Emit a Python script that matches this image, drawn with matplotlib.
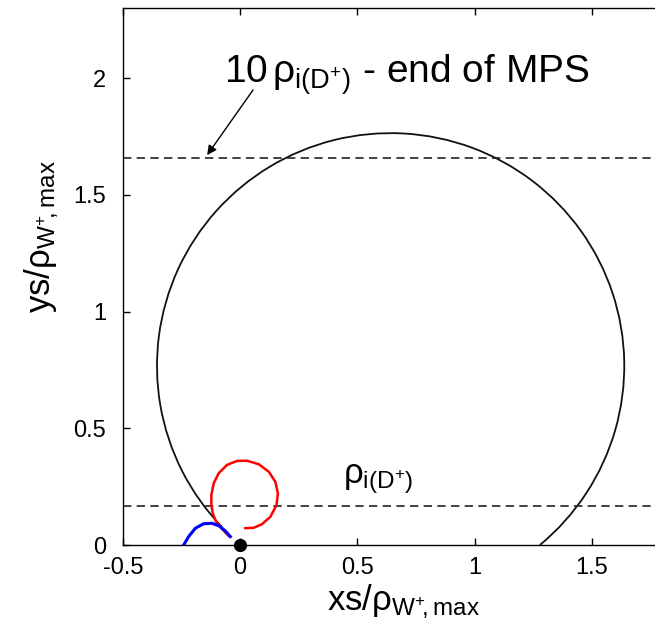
import matplotlib
matplotlib.use("Agg")
import matplotlib.pyplot as plt
from matplotlib.patches import Arc

plt.rcParams['font.family'] = ['Liberation Sans', 'DejaVu Sans']
plt.rcParams['mathtext.fontset'] = 'custom'
plt.rcParams['mathtext.rm'] = 'Liberation Sans'
plt.rcParams['mathtext.it'] = 'Liberation Sans'
plt.rcParams['mathtext.bf'] = 'Liberation Sans'
plt.rcParams['mathtext.sf'] = 'Liberation Sans'

# ---- data ----
rho_i = 0.1657            # rho_i(D+) level
rho_10 = 1.657            # 10 rho_i(D+) level (end of MPS)

# big gyro-orbit (black) : circle arc
big_center = (0.642, 0.767)
big_radius = 0.997
big_theta = (-50.3, 224.0)

# red loop trajectory
red_x = [-0.049, -0.078, -0.103, -0.117, -0.123, -0.123, -0.113, -0.092, -0.056,
         -0.014, 0.029, 0.079, 0.122, 0.150, 0.161, 0.155, 0.129, 0.093, 0.058, 0.022]
red_y = [0.039, 0.069, 0.100, 0.136, 0.171, 0.214, 0.264, 0.307, 0.343,
         0.360, 0.361, 0.346, 0.314, 0.271, 0.221, 0.171, 0.121, 0.089, 0.074, 0.072]

# blue arc trajectory
blue_x = [-0.241, -0.220, -0.191, -0.156, -0.120, -0.089, -0.063, -0.042]
blue_y = [0.0, 0.036, 0.072, 0.091, 0.093, 0.081, 0.060, 0.036]

origin = (0.0, 0.0)

xticks = [-0.5, 0, 0.5, 1, 1.5]
xticklabels = ['-0.5', '0', '0.5', '1', '1.5']
yticks = [0, 0.5, 1, 1.5, 2]
yticklabels = ['0', '0.5', '1', '1.5', '2']

# ---- figure ----
fig = plt.figure(figsize=(6.55, 6.35), dpi=100)
ax = fig.add_axes([123/655, 90/635, 539/655, 537/635])
ax.set_xlim(-0.5, 1.8)
ax.set_ylim(0, 2.3)

for s in ax.spines.values():
    s.set_linewidth(1.0)

ax.axhline(rho_10, color='#222222', lw=1.2, ls=(0, (5, 3.2)))
ax.axhline(rho_i, color='#222222', lw=1.2, ls=(0, (5, 3.2)))

arc = Arc(big_center, 2*big_radius, 2*big_radius, theta1=big_theta[0],
          theta2=big_theta[1], color='#111111', lw=1.3)
ax.add_patch(arc)

ax.plot(red_x, red_y, color='#ff0000', lw=1.8, solid_joinstyle='round')
ax.plot(blue_x, blue_y, color='#0000ff', lw=2.2, solid_joinstyle='round')
ax.plot([origin[0]], [origin[1]], 'o', color='black', ms=8.5, clip_on=False, zorder=5)

ax.set_xticks(xticks)
ax.set_xticklabels(xticklabels)
ax.set_yticks(yticks)
ax.set_yticklabels(yticklabels)
ax.tick_params(direction='in', length=5, width=1.0, labelsize=17,
               top=True, right=True)
ax.tick_params(axis='x', pad=9)
ax.tick_params(axis='y', pad=12)

ax.set_xlabel(r'xs/$\rho_{\mathrm{W^{+}\!,max}}$', fontsize=25)
ax.xaxis.set_label_coords(0.52, -0.07)
ax.set_ylabel(r'ys/$\rho_{\mathrm{W^{+}\!,max}}$', fontsize=25)
ax.yaxis.set_label_coords(-0.115, 0.575)

ax.text(-0.07, 1.98, r'10$\,\rho_{\mathrm{i(D^{+})}}$ - end of MPS', fontsize=28,
        ha='left', va='baseline')
ax.text(0.44, 0.266, r'$\rho_{\mathrm{i(D^{+})}}$', fontsize=25,
        ha='left', va='baseline')

ax.annotate('', xy=(-0.141, 1.670), xytext=(0.055, 1.949),
            arrowprops=dict(arrowstyle='-|>', color='black', lw=1.0,
                            mutation_scale=14, shrinkA=0, shrinkB=0))

fig.savefig('out.png', dpi=100)
